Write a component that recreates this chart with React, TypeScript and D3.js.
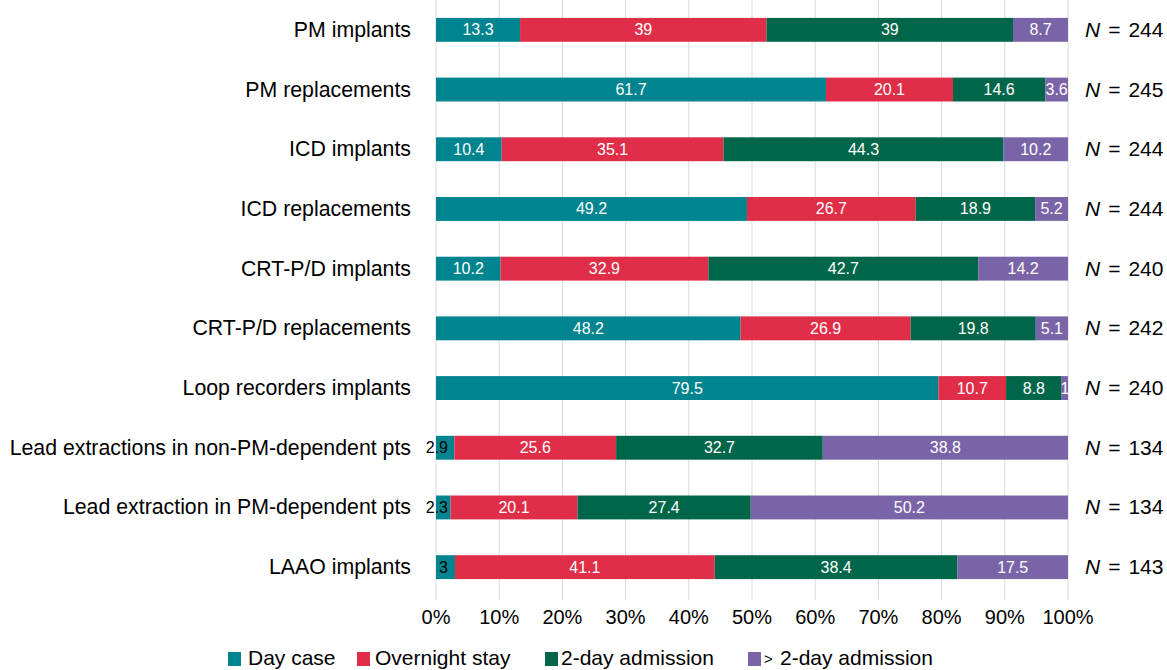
import React, { useEffect, useRef } from 'react';
import * as d3 from 'd3';

const categories = [
  'PM implants',
  'PM replacements',
  'ICD implants',
  'ICD replacements',
  'CRT-P/D implants',
  'CRT-P/D replacements',
  'Loop recorders implants',
  'Lead extractions in non-PM-dependent pts',
  'Lead extraction in PM-dependent pts',
  'LAAO implants',
];
const seriesNames = ['Day case', 'Overnight stay', '2-day admission', '> 2-day admission'];
const dayCase = [13.3, 61.7, 10.4, 49.2, 10.2, 48.2, 79.5, 2.9, 2.3, 3];
const overnight = [39, 20.1, 35.1, 26.7, 32.9, 26.9, 10.7, 25.6, 20.1, 41.1];
const twoDay = [39, 14.6, 44.3, 18.9, 42.7, 19.8, 8.8, 32.7, 27.4, 38.4];
const moreThanTwo = [8.7, 3.6, 10.2, 5.2, 14.2, 5.1, 1, 38.8, 50.2, 17.5];
const nValues = [244, 245, 244, 244, 240, 242, 240, 134, 134, 143];
const xTicks = [0, 10, 20, 30, 40, 50, 60, 70, 80, 90, 100];
const colors = ['#00848f', '#e02d48', '#00664a', '#7a64a8'];

const FONT = '"Liberation Sans", Arial, sans-serif';

export default function App() {
  const ref = useRef<SVGSVGElement>(null);

  useEffect(() => {
    const svg = d3.select(ref.current);
    svg.selectAll('*').remove();

    const left = 436, right = 1068, top = 0, bottom = 597;
    const x = d3.scaleLinear().domain([0, 100]).range([left, right]);
    const y = d3.scaleBand()
      .domain(categories)
      .range([top, bottom])
      .paddingInner(0.6)
      .paddingOuter(0.3);

    const values = [dayCase, overnight, twoDay, moreThanTwo];
    const rows = categories.map((c, i) => {
      const r: any = { cat: c };
      seriesNames.forEach((s, k) => { r[s] = values[k][i]; });
      return r;
    });
    const stack = d3.stack<any>().keys(seriesNames)(rows);

    // gridlines
    svg.append('g')
      .selectAll('line')
      .data(xTicks)
      .join('line')
      .attr('x1', d => x(d))
      .attr('x2', d => x(d))
      .attr('y1', top)
      .attr('y2', bottom + 3)
      .attr('stroke', '#d9d9d9')
      .attr('stroke-width', 1);

    // bars
    const layers = svg.append('g')
      .selectAll('g')
      .data(stack)
      .join('g')
      .attr('fill', (d, k) => colors[k]);

    layers.selectAll('rect')
      .data(d => d)
      .join('rect')
      .attr('x', d => x(d[0]))
      .attr('y', d => y(d.data.cat)!)
      .attr('width', d => x(d[1]) - x(d[0]))
      .attr('height', y.bandwidth());

    // value labels (tiny day-case values are dark and pushed left like the original)
    stack.forEach((layer, k) => {
      const small = (d: any) => k === 0 && d[1] - d[0] < 5;
      svg.append('g')
        .selectAll('text')
        .data(layer)
        .join('text')
        .attr('x', d => (small(d) ? x(0) + 12 : (x(d[0]) + x(d[1])) / 2))
        .attr('y', d => y(d.data.cat)! + y.bandwidth() / 2 + 5.5)
        .attr('text-anchor', d => (small(d) ? 'end' : 'middle'))
        .attr('fill', d => (small(d) ? '#000' : '#fff'))
        .style('font-family', FONT)
        .style('font-size', '16px')
        .text(d => String(+(d[1] - d[0]).toFixed(1)));
    });

    // category labels
    svg.append('g')
      .selectAll('text')
      .data(categories)
      .join('text')
      .attr('x', 411)
      .attr('y', d => y(d)! + y.bandwidth() / 2 + 7)
      .attr('text-anchor', 'end')
      .attr('fill', '#000')
      .style('font-family', FONT)
      .style('font-size', '21.3px')
      .text(d => d);

    // N labels
    const nText = svg.append('g')
      .selectAll('text')
      .data(categories)
      .join('text')
      .attr('x', 1085)
      .attr('y', d => y(d)! + y.bandwidth() / 2 + 7)
      .attr('fill', '#000')
      .style('font-family', FONT)
      .style('font-size', '21px');
    nText.append('tspan').style('font-style', 'italic').text('N');
    nText.append('tspan').attr('dx', 8).text('=');
    nText.append('tspan').attr('dx', 8).text((d, i) => nValues[i]);

    // x tick labels
    svg.append('g')
      .selectAll('text')
      .data(xTicks)
      .join('text')
      .attr('x', d => x(d))
      .attr('y', 624)
      .attr('text-anchor', 'middle')
      .attr('fill', '#000')
      .style('font-family', FONT)
      .style('font-size', '20px')
      .text(d => d + '%');

    // legend
    const legendX = [228, 357, 545, 748];
    const textX = [248, 375, 561, 780];
    const legend = svg.append('g');
    seriesNames.forEach((s, k) => {
      legend.append('rect')
        .attr('x', legendX[k])
        .attr('y', 652)
        .attr('width', 13)
        .attr('height', 14)
        .attr('fill', colors[k]);
      if (k === 3) {
        legend.append('text')
          .attr('x', 764)
          .attr('y', 664)
          .attr('fill', '#000')
          .style('font-family', FONT)
          .style('font-size', '15px')
          .text('>');
      }
      legend.append('text')
        .attr('x', textX[k])
        .attr('y', 665)
        .attr('fill', '#000')
        .style('font-family', FONT)
        .style('font-size', '21px')
        .text(k === 3 ? '2-day admission' : s);
    });
  }, []);

  return (
    <svg
      ref={ref}
      width={1167}
      height={670}
      style={{ position: 'absolute', left: 0, top: 0, background: '#fff' }}
    />
  );
}
